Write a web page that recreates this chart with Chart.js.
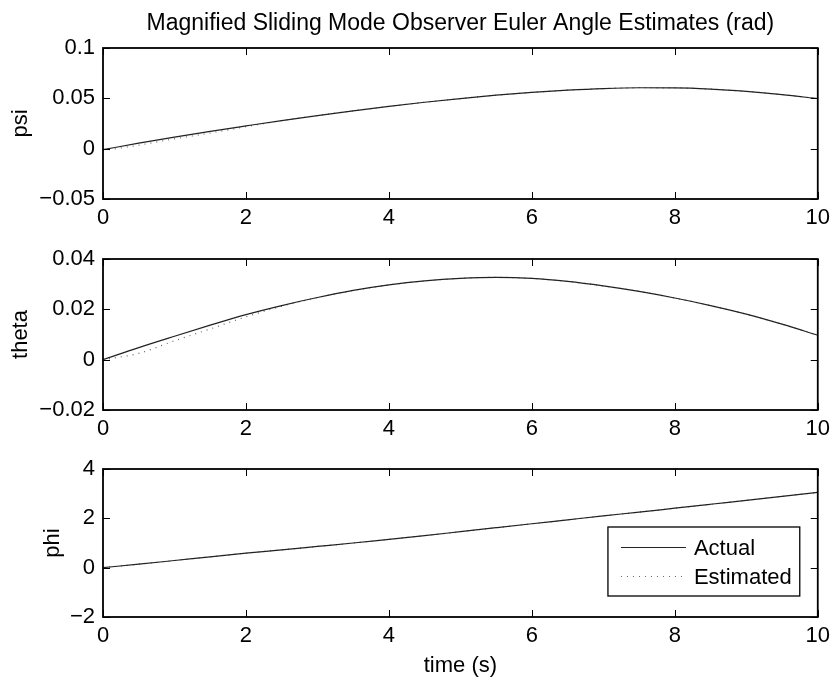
<!DOCTYPE html>
<html lang="en">
<head>
<meta charset="UTF-8">
<title>Euler Angle Estimates</title>
<script src="https://cdn.jsdelivr.net/npm/chart.js"></script>
<style>
    body { margin: 0; background: #fff; }
    .painel { position: absolute; left: 0; width: 836px; }
</style>
</head>
<body>
<div class="painel" style="top:0px"><canvas id="grafPsi" width="836" height="232"></canvas></div>
<div class="painel" style="top:232px"><canvas id="grafTheta" width="836" height="210"></canvas></div>
<div class="painel" style="top:442px"><canvas id="grafPhi" width="836" height="235"></canvas></div>

<script>
// tempo (s)
const tempo = [0, 0.5, 1, 1.5, 2, 2.5, 3, 3.5, 4, 4.5, 5, 5.5, 6, 6.5, 7, 7.5, 8, 8.5, 9, 9.5, 10];

// angulos reais e estimados pelo observador (rad)
const psiReal = [-0.001, 0.0055, 0.0115, 0.0172, 0.0226, 0.0279, 0.0329, 0.0376, 0.042, 0.0461, 0.0498, 0.0531, 0.0559, 0.0581, 0.0597, 0.0605, 0.0604, 0.0592, 0.0569, 0.0537, 0.0497];
const psiEst = [-0.002, 0.0035, 0.0098, 0.0155, 0.0218, 0.0279, 0.0329, 0.0376, 0.042, 0.0461, 0.0498, 0.0531, 0.0559, 0.0581, 0.0597, 0.0605, 0.0604, 0.0592, 0.0569, 0.0537, 0.0497];

const thetaReal = [0, 0.0048, 0.0093, 0.0137, 0.0179, 0.0215, 0.0247, 0.0275, 0.0297, 0.0313, 0.0323, 0.0327, 0.0323, 0.0311, 0.0293, 0.0271, 0.0245, 0.0215, 0.0181, 0.0141, 0.0097];
const thetaEst = [0, 0.0025, 0.0075, 0.0122, 0.017, 0.0212, 0.0247, 0.0275, 0.0297, 0.0313, 0.0323, 0.0327, 0.0323, 0.0311, 0.0293, 0.0271, 0.0245, 0.0215, 0.0181, 0.0141, 0.0097];

const phiReal = [0, 0.14, 0.29, 0.44, 0.59, 0.72, 0.86, 1.0, 1.15, 1.3, 1.46, 1.62, 1.78, 1.94, 2.1, 2.25, 2.41, 2.57, 2.73, 2.89, 3.05];
const phiEst = [0, 0.14, 0.29, 0.44, 0.59, 0.72, 0.86, 1.0, 1.15, 1.3, 1.46, 1.62, 1.78, 1.94, 2.1, 2.25, 2.41, 2.57, 2.73, 2.89, 3.05];

// limites e passos dos eixos
const eixoTempo = { min: 0, max: 10, passo: 2 };
const eixoPsi = { min: -0.05, max: 0.1, passo: 0.05 };
const eixoTheta = { min: -0.02, max: 0.04, passo: 0.02 };
const eixoPhi = { min: -2, max: 4, passo: 2 };

const legendas = ['Actual', 'Estimated'];
const titulo = 'Magnified Sliding Mode Observer Euler Angle Estimates (rad)';

Chart.defaults.font.family = "'Liberation Sans', Arial, sans-serif";
Chart.defaults.font.size = 22;
Chart.defaults.color = '#000';

function formatarTick(v) {
    return String(+v.toFixed(4)).replace('-', '\u2212');
}

// moldura fechada com ticks para dentro, estilo matlab
const molduraPlugin = {
    id: 'moldura',
    afterDatasetsDraw(chart) {
        const { ctx, chartArea: a } = chart;
        const x = chart.scales.x, y = chart.scales.y;
        ctx.save();
        ctx.strokeStyle = '#000';
        ctx.lineWidth = 1;
        ctx.beginPath();
        x.ticks.forEach(function (t) {
            const px = Math.round(x.getPixelForValue(t.value)) + 0.5;
            ctx.moveTo(px, a.bottom); ctx.lineTo(px, a.bottom - 7);
            ctx.moveTo(px, a.top); ctx.lineTo(px, a.top + 7);
        });
        y.ticks.forEach(function (t) {
            const py = Math.round(y.getPixelForValue(t.value)) + 0.5;
            ctx.moveTo(a.left, py); ctx.lineTo(a.left + 7, py);
            ctx.moveTo(a.right, py); ctx.lineTo(a.right - 7, py);
        });
        ctx.stroke();
        ctx.lineWidth = 1.8;
        ctx.strokeRect(a.left, a.top, a.right - a.left, a.bottom - a.top);
        ctx.restore();
    }
};

// caixa de legenda dentro do grafico (canto inferior direito)
const legendaPlugin = {
    id: 'legendaCaixa',
    afterDraw(chart) {
        const { ctx, chartArea: a } = chart;
        const ds = chart.data.datasets;
        ctx.save();
        ctx.font = Chart.defaults.font.size + "px 'Liberation Sans', Arial, sans-serif";
        let larguraTexto = 0;
        ds.forEach(function (d) { larguraTexto = Math.max(larguraTexto, ctx.measureText(d.label).width); });
        const amostra = 65, linha = 29;
        const w = 13 + amostra + 8 + larguraTexto + 8;
        const h = ds.length * linha + 11;
        const x0 = a.right - 18 - w, y0 = a.bottom - 21 - h;
        ctx.fillStyle = '#fff';
        ctx.fillRect(x0, y0, w, h);
        ctx.strokeStyle = '#000';
        ctx.lineWidth = 1.3;
        ctx.strokeRect(x0, y0, w, h);
        ds.forEach(function (d, i) {
            const yy = y0 + 6 + linha * i + linha / 2;
            ctx.strokeStyle = d.borderColor;
            ctx.lineWidth = d.borderWidth;
            ctx.setLineDash(d.borderDash || []);
            ctx.beginPath();
            ctx.moveTo(x0 + 13, yy);
            ctx.lineTo(x0 + 13 + amostra, yy);
            ctx.stroke();
            ctx.setLineDash([]);
            ctx.fillStyle = '#000';
            ctx.textBaseline = 'middle';
            ctx.fillText(d.label, x0 + 13 + amostra + 8, yy + 1);
        });
        ctx.restore();
    }
};

function pares(valores) {
    return tempo.map(function (t, i) { return { x: t, y: valores[i] }; });
}

function criarGrafico(id, real, est, eixoY, nomeY, cfg) {
    const ctx = document.getElementById(id).getContext('2d');
    const plugins = [molduraPlugin];
    if (cfg.legenda) plugins.push(legendaPlugin);
    return new Chart(ctx, {
        type: 'line',
        data: {
            datasets: [{
                label: legendas[0],
                data: pares(real),
                borderColor: '#222',
                borderWidth: 1.2,
                pointRadius: 0,
                cubicInterpolationMode: 'monotone'
            }, {
                label: legendas[1],
                data: pares(est),
                borderColor: '#666',
                borderWidth: 1.2,
                borderDash: [1, 5],
                pointRadius: 0,
                cubicInterpolationMode: 'monotone'
            }]
        },
        options: {
            responsive: false,
            animation: false,
            layout: { padding: { left: 0, right: 15, top: cfg.topo, bottom: 0 } },
            plugins: {
                legend: { display: false },
                tooltip: { enabled: false },
                title: {
                    display: !!cfg.titulo,
                    text: cfg.titulo || '',
                    fullSize: false,
                    font: { size: 23, weight: 'normal' },
                    padding: { top: 10, bottom: 10.4 }
                }
            },
            scales: {
                x: {
                    type: 'linear',
                    min: eixoTempo.min,
                    max: eixoTempo.max,
                    grid: { display: false, drawTicks: false },
                    border: { display: false },
                    ticks: { stepSize: eixoTempo.passo, padding: 6, maxRotation: 0, callback: formatarTick },
                    title: {
                        display: !!cfg.tituloX,
                        text: cfg.tituloX || '',
                        font: { size: 22, lineHeight: 1 },
                        padding: { top: 0, bottom: 0 }
                    },
                    afterFit(s) { s.height = cfg.alturaX; }
                },
                y: {
                    min: eixoY.min,
                    max: eixoY.max,
                    grid: { display: false, drawTicks: false },
                    border: { display: false },
                    ticks: { stepSize: eixoY.passo, padding: 8, callback: formatarTick },
                    title: {
                        display: true,
                        text: nomeY,
                        font: { size: 22 },
                        padding: { top: cfg.recuoY, bottom: 0 }
                    },
                    afterFit(s) { s.width = 103; }
                }
            }
        },
        plugins: plugins
    });
}

criarGrafico('grafPsi', psiReal, psiEst, eixoPsi, 'psi', { topo: 0, titulo: titulo, alturaX: 33, recuoY: 8 });
criarGrafico('grafTheta', thetaReal, thetaEst, eixoTheta, 'theta', { topo: 27, alturaX: 32, recuoY: 8 });
criarGrafico('grafPhi', phiReal, phiEst, eixoPhi, 'phi', { topo: 27, alturaX: 60, recuoY: 40, legenda: true, tituloX: 'time (s)' });
</script>
</body>
</html>
